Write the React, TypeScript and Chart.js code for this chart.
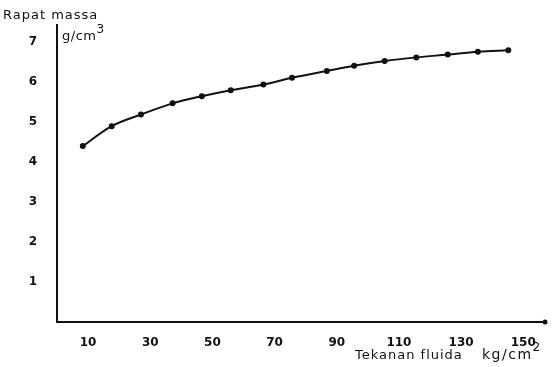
import React, { useEffect, useRef } from "react";
import { Chart, registerables } from "chart.js";

Chart.register(...registerables);

const pressure = [8.3, 17.6, 27.0, 37.2, 46.6, 55.9, 66.4, 75.6, 86.8, 95.6, 105.4, 115.6, 125.7, 135.4, 145.2];
const density = [4.4, 4.9, 5.19, 5.47, 5.65, 5.8, 5.94, 6.11, 6.28, 6.41, 6.53, 6.62, 6.69, 6.76, 6.8];
const xTickValues = [10, 30, 50, 70, 90, 110, 130, 150];
const yTickValues = [1, 2, 3, 4, 5, 6, 7];

const FONT = "'DejaVu Sans', sans-serif";

const titlesPlugin = {
  id: "handTitles",
  afterDraw(chart: any) {
    const ctx = chart.ctx;
    ctx.save();
    ctx.fillStyle = "#111";
    ctx.textBaseline = "alphabetic";
    ctx.textAlign = "left";
    ctx.font = `13px ${FONT}`;
    (ctx as any).letterSpacing = "1px";
    ctx.fillText("Rapat massa", 3, 19);
    ctx.fillText("Tekanan fluida", 355, 359);
    (ctx as any).letterSpacing = "0.5px";
    ctx.fillText("g/cm", 62, 40);
    const w1 = ctx.measureText("g/cm").width;
    ctx.font = `14px ${FONT}`;
    (ctx as any).letterSpacing = "1.5px";
    ctx.fillText("kg/cm", 482, 359);
    const w2 = ctx.measureText("kg/cm").width;
    (ctx as any).letterSpacing = "0px";
    ctx.font = `12px ${FONT}`;
    ctx.fillText("3", 62 + w1, 33);
    ctx.fillText("2", 482 + w2, 351);
    // arrow dot at end of x axis
    ctx.beginPath();
    ctx.arc(chart.chartArea.right, chart.chartArea.bottom, 2.5, 0, Math.PI * 2);
    ctx.fill();
    ctx.restore();
  },
};

export default function App() {
  const ref = useRef<HTMLCanvasElement | null>(null);
  useEffect(() => {
    if (!ref.current) return;
    const chart = new Chart(ref.current, {
      type: "scatter",
      data: {
        datasets: [
          {
            data: pressure.map((x, i) => ({ x, y: density[i] })),
            showLine: true,
            borderColor: "#111",
            backgroundColor: "#111",
            borderWidth: 2,
            pointRadius: 2,
            pointHoverRadius: 2,
            tension: 0.35,
          },
        ],
      },
      plugins: [titlesPlugin],
      options: {
        animation: false,
        responsive: false,
        maintainAspectRatio: false,
        layout: { padding: { left: 0, right: 12, top: 25, bottom: 0 } },
        plugins: { legend: { display: false }, tooltip: { enabled: false } },
        scales: {
          x: {
            type: "linear",
            min: 0,
            max: 157,
            grid: { display: false },
            border: { display: true, color: "#111", width: 2 },
            afterFit: (s: any) => {
              s.height = 45;
            },
            afterBuildTicks: (s: any) => {
              s.ticks = xTickValues.map((v) => ({ value: v }));
            },
            ticks: {
              color: "#111",
              font: { family: FONT, size: 12, weight: "bold" },
              padding: 6,
              maxRotation: 0,
              autoSkip: false,
            },
          },
          y: {
            type: "linear",
            min: 0,
            max: 7.43,
            grid: { display: false },
            border: { display: true, color: "#111", width: 2 },
            afterFit: (s: any) => {
              s.width = 57;
            },
            afterBuildTicks: (s: any) => {
              s.ticks = yTickValues.map((v) => ({ value: v }));
            },
            ticks: {
              color: "#111",
              font: { family: FONT, size: 12, weight: "bold" },
              padding: 12,
              autoSkip: false,
            },
          },
        },
      },
    });
    return () => chart.destroy();
  }, []);
  return (
    <div style={{ position: "fixed", left: 0, top: 0, width: 557, height: 367, background: "#fff" }}>
      <canvas ref={ref} width={557} height={367} style={{ width: 557, height: 367 }} />
    </div>
  );
}
